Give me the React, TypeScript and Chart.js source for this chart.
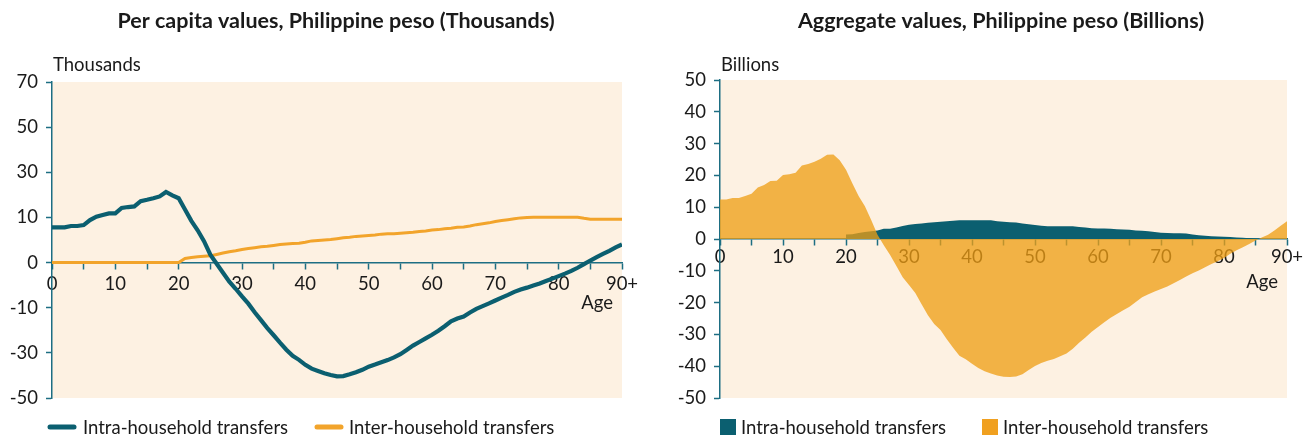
import React, { useEffect, useRef } from 'react';
import { Chart, registerables } from 'chart.js';

Chart.register(...registerables);

// ---------- data ----------
const ages = [
  0, 1, 2, 3, 4, 5, 6, 7, 8, 9, 10, 11, 12, 13, 14, 15, 16, 17, 18, 19,
  20, 21, 22, 23, 24, 25, 26, 27, 28, 29, 30, 31, 32, 33, 34, 35, 36, 37, 38, 39,
  40, 41, 42, 43, 44, 45, 46, 47, 48, 49, 50, 51, 52, 53, 54, 55, 56, 57, 58, 59,
  60, 61, 62, 63, 64, 65, 66, 67, 68, 69, 70, 71, 72, 73, 74, 75, 76, 77, 78, 79,
  80, 81, 82, 83, 84, 85, 86, 87, 88, 89, 90,
];

const xTickLabels = ['0', '10', '20', '30', '40', '50', '60', '70', '80', '90+'];
// per-capita axis labels, bottom to top (equally spaced on the chart)
const perCapitaTickLabels = ['-50', '-30', '-10', '0', '10', '30', '50', '70'];
const aggregateTickLabels = ['-50', '-40', '-30', '-20', '-10', '0', '10', '20', '30', '40', '50'];

// Per capita, thousands of pesos (as labelled on the axis)
const intraPerCapita = [
  7.8, 7.8, 7.8, 8.1, 8.1, 8.3, 9.4, 10.3, 11.1, 11.8,
  11.8, 14.2, 14.6, 14.9, 17.2, 17.8, 18.5, 19.3, 21.3, 19.8,
  18.5, 13.5, 9.25, 7.15, 4.75, 1.75, -0.25, -2.25, -4.25, -5.8,
  -7.5, -9.1, -12.0, -15.5, -19.0, -22.2, -25.5, -28.6, -31.3, -33.1,
  -35.3, -37.0, -38.0, -39.0, -39.8, -40.4, -40.3, -39.5, -38.6, -37.5,
  -36.1, -35.2, -34.2, -33.2, -32.0, -30.6, -28.7, -26.8, -25.2, -23.6,
  -22.0, -20.2, -18.2, -16.0, -14.8, -13.9, -12.1, -10.5, -9.65, -9.05,
  -8.4, -7.75, -7.15, -6.5, -5.95, -5.55, -5.1, -4.65, -4.1, -3.55,
  -3.0, -2.45, -1.85, -1.15, -0.35, 0.45, 1.2, 1.9, 2.6, 3.35,
  4.0,
];

const interPerCapita = [
  0, 0, 0, 0, 0, 0, 0, 0, 0, 0,
  0, 0, 0, 0, 0, 0, 0, 0, 0, 0,
  0, 0.9, 1.1, 1.3, 1.4, 1.5, 1.8, 2.1, 2.4, 2.6,
  2.9, 3.1, 3.3, 3.5, 3.6, 3.8, 4.0, 4.1, 4.2, 4.3,
  4.5, 4.8, 4.9, 5.0, 5.1, 5.3, 5.5, 5.6, 5.8, 5.9,
  6.0, 6.1, 6.3, 6.4, 6.4, 6.5, 6.6, 6.7, 6.9, 7.0,
  7.2, 7.3, 7.5, 7.6, 7.8, 7.9, 8.1, 8.4, 8.6, 8.8,
  9.1, 9.3, 9.5, 9.7, 9.9, 10.0, 10.1, 10.1, 10.1, 10.1,
  10.1, 10.1, 10.1, 10.1, 9.8, 9.6, 9.6, 9.6, 9.6, 9.6,
  9.6,
];

// Aggregate, billions of pesos
const intraAggregate = [
  null, null, null, null, null, null, null, null, null, null,
  null, null, null, null, null, null, null, null, null, null,
  1.4, 1.5, 1.9, 2.2, 2.4, 2.7, 3.2, 3.2, 3.6, 4.1,
  4.5, 4.7, 4.9, 5.1, 5.3, 5.4, 5.6, 5.7, 5.9, 5.9,
  5.9, 5.9, 5.9, 5.9, 5.6, 5.4, 5.3, 5.2, 4.9, 4.6,
  4.4, 4.2, 4.0, 4.0, 4.0, 4.0, 4.0, 3.8, 3.6, 3.4,
  3.3, 3.3, 3.2, 3.1, 3.0, 2.9, 2.7, 2.6, 2.4, 2.2,
  2.0, 1.9, 1.8, 1.8, 1.7, 1.4, 1.2, 1.0, 0.9, 0.8,
  0.7, 0.6, 0.5, 0.4, 0.2, 0.1, 0, 0, 0, 0,
  0,
];

const interAggregate = [
  12.4, 12.4, 12.9, 12.9, 13.5, 14.2, 16.2, 17.0, 18.2, 18.3,
  20.1, 20.4, 20.8, 23.1, 23.6, 24.3, 25.2, 26.5, 26.6, 24.8,
  21.8, 17.5, 13.5, 10.3, 6.0, 1.3, -2.0, -5.0, -8.5, -12.0,
  -14.5, -17.0, -20.5, -24.0, -26.7, -28.6, -31.5, -34.2, -36.7, -37.8,
  -39.2, -40.6, -41.6, -42.3, -42.9, -43.3, -43.4, -43.2, -42.5, -41.2,
  -39.9, -39.0, -38.3, -37.7, -36.9, -36.0, -34.5, -32.6, -31.0, -29.2,
  -27.7, -26.2, -24.8, -23.6, -22.4, -21.3, -19.8, -18.3, -17.4, -16.5,
  -15.7, -14.9, -13.9, -12.9, -11.8, -10.8, -9.9, -8.9, -7.9, -7.0,
  -6.0, -4.6, -3.5, -2.6, -1.6, -0.5, 0.5, 1.3, 2.7, 4.2,
  5.6,
];

// ---------- styling ----------
const TEAL = '#0b5f70';
const AXIS = '#1d6e83';
const ORANGE = '#f2a42b';
const ORANGE_FILL = 'rgba(238,158,20,0.76)';
const BG = '#fdf1e2';
const TEXT = '#1a1a1a';
const FONT = 'Lato, "Open Sans", sans-serif';
const TEXT_SIZE = 18.5;

// The per-capita axis spaces its labels evenly (0,10,30,50,70 / -10,-30,-50);
// this maps a labelled value onto that evenly spaced axis.
function perCapitaPos(v: number): number {
  if (v >= 10) return v + 10;
  if (v <= -10) return v - 10;
  return v * 2;
}

const bgPlugin = {
  id: 'plotBg',
  beforeDraw(chart: any) {
    const { ctx, chartArea } = chart;
    ctx.save();
    ctx.fillStyle = BG;
    ctx.fillRect(chartArea.left, chartArea.top, chartArea.right - chartArea.left, chartArea.bottom - chartArea.top);
    ctx.restore();
  },
};

const decorPlugin = {
  id: 'decor',
  afterDraw(chart: any, _args: any, opts: any) {
    const { ctx, chartArea } = chart;
    ctx.save();
    ctx.fillStyle = TEXT;
    // title
    ctx.font = `bold ${opts.titleSize}px ${FONT}`;
    ctx.textAlign = 'center';
    ctx.textBaseline = 'alphabetic';
    ctx.fillText(opts.title, opts.titleX, opts.titleY);
    // unit
    ctx.font = `${TEXT_SIZE}px ${FONT}`;
    ctx.textAlign = 'left';
    ctx.fillText(opts.unit, chartArea.left + 1, opts.unitY);
    // Age
    ctx.textAlign = 'right';
    ctx.fillText('Age', opts.ageX, opts.ageY);
    // legend
    ctx.textAlign = 'left';
    opts.legend.forEach((item: any) => {
      if (opts.legendStyle === 'line') {
        ctx.strokeStyle = item.color;
        ctx.lineWidth = 5;
        ctx.lineCap = 'round';
        ctx.beginPath();
        ctx.moveTo(item.x + 2, opts.legendY);
        ctx.lineTo(item.x + 26, opts.legendY);
        ctx.stroke();
      } else {
        ctx.fillStyle = item.color;
        ctx.fillRect(item.x, opts.legendY - 8, 16, 16);
      }
      ctx.fillStyle = TEXT;
      ctx.fillText(item.label, item.textX, opts.legendY + 6.5);
    });
    ctx.restore();
  },
};

function xScale(labelPadding: number) {
  return {
    type: 'linear',
    min: 0,
    max: 90,
    position: { y: 0 },
    ticks: {
      stepSize: 5,
      autoSkip: false,
      maxRotation: 0,
      padding: labelPadding,
      color: TEXT,
      font: { family: FONT, size: TEXT_SIZE },
      callback: (v: number) => (v % 10 === 0 ? xTickLabels[v / 10] : ''),
    },
    grid: { drawOnChartArea: false, drawTicks: true, tickLength: 6, color: AXIS, tickWidth: 1.5 },
    border: { display: true, color: AXIS, width: 1.5 },
  };
}

function yTicks(labels: string[], step: number) {
  return {
    stepSize: step,
    padding: 8,
    color: TEXT,
    font: { family: FONT, size: TEXT_SIZE },
    callback: (_v: any, i: number) => labels[i],
  };
}

function LeftChart() {
  const ref = useRef<HTMLCanvasElement>(null);
  useEffect(() => {
    const chart = new Chart(ref.current as HTMLCanvasElement, {
      type: 'line',
      data: {
        datasets: [
          {
            label: 'Intra-household transfers',
            data: ages.map((a, i) => ({ x: a, y: perCapitaPos(intraPerCapita[i]) })),
            borderColor: TEAL,
            borderWidth: 4.2,
            pointRadius: 0,
            fill: false,
          },
          {
            label: 'Inter-household transfers',
            data: ages.map((a, i) => ({ x: a, y: perCapitaPos(interPerCapita[i]) })),
            borderColor: ORANGE,
            borderWidth: 3,
            pointRadius: 0,
            fill: false,
          },
        ],
      },
      options: {
        animation: false,
        responsive: false,
        layout: { padding: { left: 0, top: 82, right: 34, bottom: 42 } },
        plugins: {
          legend: { display: false },
          tooltip: { enabled: false },
          decor: {
            title: 'Per capita values, Philippine peso (Thousands)',
            titleSize: 21.5,
            titleX: 336,
            titleY: 28,
            unit: 'Thousands',
            unitY: 71,
            ageX: 613,
            ageY: 309,
            legendStyle: 'line',
            legendY: 427,
            legend: [
              { label: 'Intra-household transfers', color: TEAL, x: 48, textX: 83 },
              { label: 'Inter-household transfers', color: ORANGE, x: 315, textX: 349 },
            ],
          },
        } as any,
        scales: {
          x: xScale(4) as any,
          y: {
            type: 'linear',
            min: -60,
            max: 80,
            afterFit: (s: any) => {
              s.width = 52;
            },
            ticks: yTicks(perCapitaTickLabels, 20),
            grid: { drawOnChartArea: false, tickLength: 6, color: AXIS, tickWidth: 1.5 },
            border: { display: true, color: AXIS, width: 1.5 },
          },
        },
      },
      plugins: [bgPlugin, decorPlugin],
    });
    return () => chart.destroy();
  }, []);
  return <canvas ref={ref} width={656} height={440} style={{ position: 'absolute', left: 0, top: 0 }} />;
}

function RightChart() {
  const ref = useRef<HTMLCanvasElement>(null);
  useEffect(() => {
    const chart = new Chart(ref.current as HTMLCanvasElement, {
      type: 'line',
      data: {
        datasets: [
          {
            label: 'Intra-household transfers',
            data: ages.map((a, i) => ({ x: a, y: intraAggregate[i] })),
            borderColor: 'transparent',
            borderWidth: 0,
            backgroundColor: TEAL,
            pointRadius: 0,
            fill: 'origin',
            order: 1,
          },
          {
            label: 'Inter-household transfers',
            data: ages.map((a, i) => ({ x: a, y: interAggregate[i] })),
            borderColor: 'transparent',
            borderWidth: 0,
            backgroundColor: ORANGE_FILL,
            pointRadius: 0,
            fill: 'origin',
            order: 0,
          },
        ],
      },
      options: {
        animation: false,
        responsive: false,
        layout: { padding: { left: 0, top: 80, right: 25, bottom: 42 } },
        plugins: {
          legend: { display: false },
          tooltip: { enabled: false },
          decor: {
            title: 'Aggregate values, Philippine peso (Billions)',
            titleSize: 21.5,
            titleX: 345,
            titleY: 28,
            unit: 'Billions',
            unitY: 71,
            ageX: 622,
            ageY: 288,
            legendStyle: 'box',
            legendY: 427,
            legend: [
              { label: 'Intra-household transfers', color: TEAL, x: 64, textX: 85 },
              { label: 'Inter-household transfers', color: '#f0a020', x: 326, textX: 347 },
            ],
          },
        } as any,
        scales: {
          x: xScale(1) as any,
          y: {
            type: 'linear',
            min: -50,
            max: 50,
            afterFit: (s: any) => {
              s.width = 64;
            },
            ticks: yTicks(aggregateTickLabels, 10),
            grid: { drawOnChartArea: false, tickLength: 6, color: AXIS, tickWidth: 1.5 },
            border: { display: true, color: AXIS, width: 1.5 },
          },
        },
      },
      plugins: [bgPlugin, decorPlugin],
    });
    return () => chart.destroy();
  }, []);
  return <canvas ref={ref} width={656} height={440} style={{ position: 'absolute', left: 656, top: 0 }} />;
}

export default function App() {
  return (
    <div style={{ position: 'absolute', left: 0, top: 0, width: 1312, height: 440, background: '#fff' }}>
      <LeftChart />
      <RightChart />
    </div>
  );
}
